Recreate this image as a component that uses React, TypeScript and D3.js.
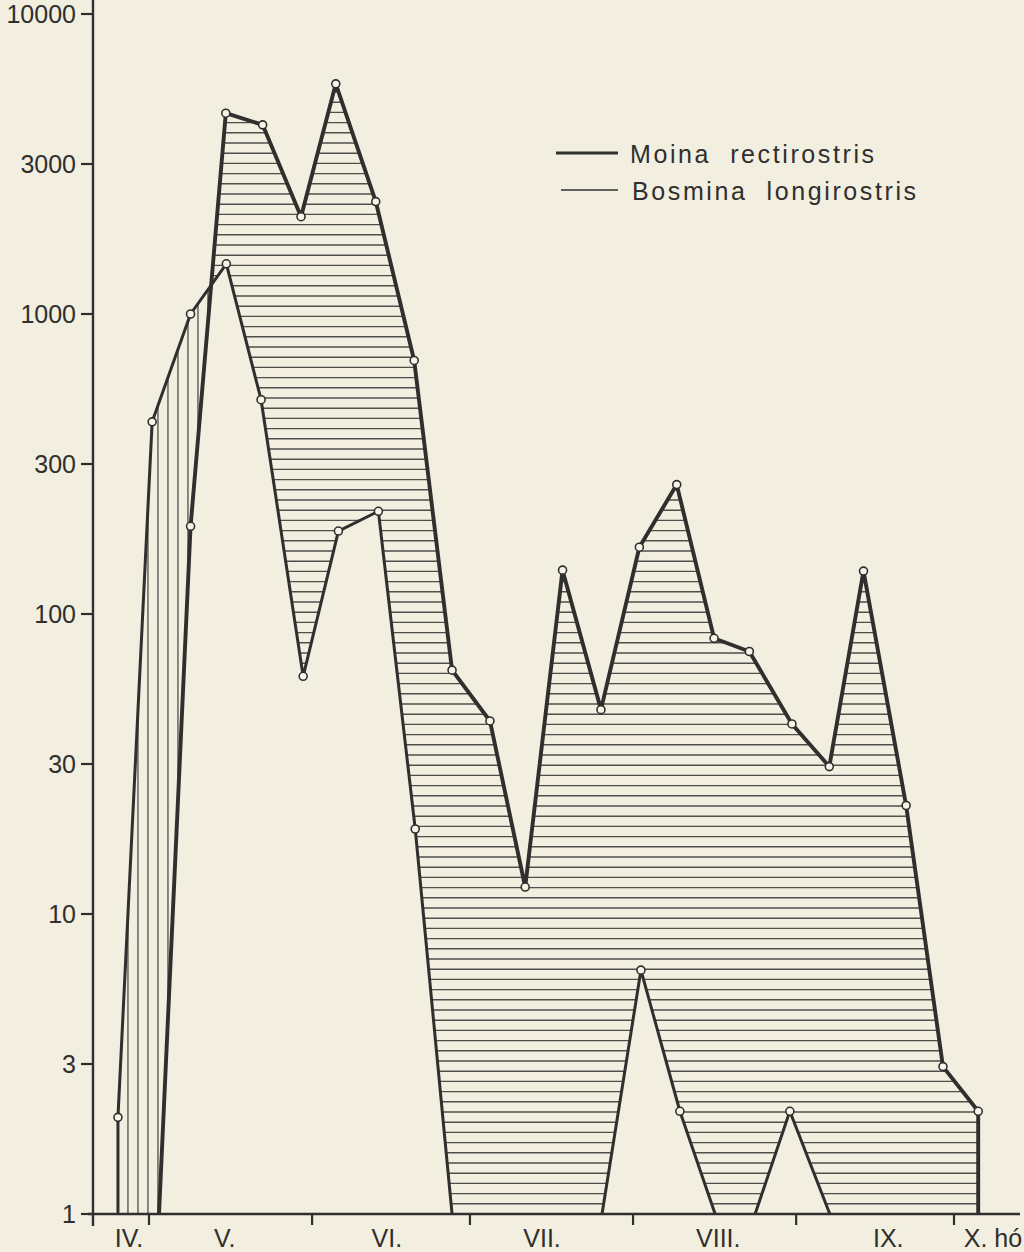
import * as d3 from 'd3'

// sampling days, counted from 1 April
const moinaDays = [31.9, 37.9, 44.6, 51.6, 58.9, 65.5, 73.1, 80.4, 87.6, 94.8, 101.5, 108.6, 115.9, 123.2, 130.3, 137.4, 144.1, 152.2, 159.3, 165.8, 173.9, 180.9, 187.6]
const moinaValues = [0, 196, 4670, 4270, 2110, 5850, 2370, 700, 65, 44, 12.3, 140, 48, 167, 270, 83, 75, 43, 31, 139, 23, 3.1, 2.2]

const bosminaDays = [24.1, 30.6, 37.9, 44.7, 51.3, 59.3, 66.0, 73.6, 80.6, 87.6, 94.8, 101.5, 108.7, 116.1, 123.5, 130.9, 137.6, 145.2, 151.8, 159.4, 165.9, 173.7, 180.9, 187.6]
const bosminaValues = [2.1, 437, 1000, 1470, 518, 62, 189, 220, 19.2, 0, 0, 0, 0, 0, 6.5, 2.2, 0, 0, 2.2, 0, 0, 0, 0, 0]

// y ticks sit on half-decades, labelled with rounded numbers
const yTickValues = [1, Math.sqrt(10), 10, Math.sqrt(1000), 100, Math.sqrt(100000), 1000, Math.sqrt(10000000), 10000]
const yTickLabels = ['1', '3', '10', '30', '100', '300', '1000', '3000', '10000']

const monthStartDays = [30, 61, 91, 122, 153, 183]
const monthLabels = ['IV.', 'V.', 'VI.', 'VII.', 'VIII.', 'IX.', 'X. hó']
const monthLabelDays = [26.2, 44.4, 75.2, 104.7, 138.2, 170.5, 190.4]

const seriesNames = ['Moina  rectirostris', 'Bosmina  longirostris']

type Pt = { d: number; v: number }

const W = 1024
const H = 1252
const PAPER = '#f2eee0'
const INK = '#2f2f2d'
const HATCH = '#4e4e4b'
const FONT = '"Liberation Sans", Arial, sans-serif'

export default function App() {
  const x = d3.scaleLinear().domain([30, 183]).range([149, 954])
  const y = d3.scaleLog().domain([1, 10000]).range([1214, 14])
  const base = y(1)
  const axisX = 93
  const yv = (v: number) => (v > 0 ? y(v) : base)

  const moina: Pt[] = moinaDays.map((d, i) => ({ d, v: moinaValues[i] }))
  const bosmina: Pt[] = bosminaDays.map((d, i) => ({ d, v: bosminaValues[i] }))

  // curves start / end on the axis
  const moinaLine: Pt[] = [...moina, { d: moina[moina.length - 1].d, v: 0 }]
  const bosminaLine: Pt[] = [{ d: bosmina[0].d, v: 0 }, ...bosmina]

  const areaBelow = d3.area<Pt>().x((p) => x(p.d)).y0(base).y1((p) => yv(p.v))
  const areaAbove = d3.area<Pt>().x((p) => x(p.d)).y0(0).y1((p) => yv(p.v))

  // draw segments, skipping those lying on the axis
  const segments = (pts: Pt[]) =>
    pts.slice(1)
      .map((p, i) => [pts[i], p])
      .filter(([a, b]) => a.v > 0 || b.v > 0)
      .map(([a, b]) => `M${x(a.d)},${yv(a.v)}L${x(b.d)},${yv(b.v)}`)
      .join('')

  const hLines = d3.range(base, 0, -10.2)
  const vLines = d3.range(x(bosmina[0].d), 260, 10)

  return (
    <svg width={W} height={H} style={{ position: 'absolute', left: 0, top: 0, display: 'block', background: PAPER }}>
      <defs>
        <clipPath id="underMoina"><path d={areaBelow(moina) || ''} /></clipPath>
        <clipPath id="aboveBosmina"><path d={areaAbove(bosmina) || ''} /></clipPath>
        <clipPath id="underBosmina"><path d={areaBelow(bosmina) || ''} /></clipPath>
        <clipPath id="aboveMoina">
          <path d={areaAbove(moina) || ''} />
          <rect x={0} y={0} width={x(moina[0].d)} height={base} />
        </clipPath>
      </defs>
      <rect width={W} height={H} fill={PAPER} />

      {/* horizontal hatching: Moina above Bosmina */}
      <g clipPath="url(#underMoina)">
        <g clipPath="url(#aboveBosmina)">
          {hLines.map((yy) => (
            <line key={yy} x1={axisX} x2={1010} y1={yy} y2={yy} stroke={HATCH} strokeWidth={1.4} />
          ))}
        </g>
      </g>
      {/* vertical hatching: Bosmina above Moina */}
      <g clipPath="url(#underBosmina)">
        <g clipPath="url(#aboveMoina)">
          {vLines.map((xx) => (
            <line key={xx} x1={xx} x2={xx} y1={0} y2={base} stroke={HATCH} strokeWidth={1.3} />
          ))}
        </g>
      </g>

      {/* axes */}
      <line x1={axisX} x2={axisX} y1={0} y2={base + 12} stroke={INK} strokeWidth={2.4} />
      <line x1={axisX - 5} x2={1020} y1={base} y2={base} stroke={INK} strokeWidth={2.4} />
      {yTickValues.map((v, i) => (
        <g key={i}>
          <line x1={axisX - 12} x2={axisX} y1={y(v)} y2={y(v)} stroke={INK} strokeWidth={2.2} />
          <text x={axisX - 17} y={y(v) + 9} textAnchor="end" fontFamily={FONT} fontSize={25} fill={INK}>
            {yTickLabels[i]}
          </text>
        </g>
      ))}
      {monthStartDays.map((d) => (
        <line key={d} x1={x(d)} x2={x(d)} y1={base} y2={base + 11} stroke={INK} strokeWidth={2.2} />
      ))}
      {monthLabels.map((m, i) => (
        <text key={m} x={x(monthLabelDays[i])} y={1247} textAnchor="middle" fontFamily={FONT} fontSize={25} fill={INK}>
          {m}
        </text>
      ))}

      {/* series outlines */}
      <path d={segments(bosminaLine)} fill="none" stroke={INK} strokeWidth={3} strokeLinejoin="round" />
      <path d={segments(moinaLine)} fill="none" stroke={INK} strokeWidth={3.9} strokeLinejoin="round" />

      {[...moina, ...bosmina].filter((p) => p.v > 0).map((p, i) => (
        <circle key={i} cx={x(p.d)} cy={y(p.v)} r={4} fill="#f7f4ea" stroke={INK} strokeWidth={1.6} />
      ))}

      {/* legend */}
      <line x1={556} x2={618} y1={153} y2={153} stroke={INK} strokeWidth={3.2} />
      <text x={630} y={163} fontFamily={FONT} fontSize={25} letterSpacing={2.6} fill={INK} style={{ whiteSpace: 'pre' }}>
        {seriesNames[0]}
      </text>
      <line x1={561} x2={618} y1={190} y2={190} stroke={INK} strokeWidth={1.6} />
      <text x={632} y={200} fontFamily={FONT} fontSize={25} letterSpacing={2.6} fill={INK} style={{ whiteSpace: 'pre' }}>
        {seriesNames[1]}
      </text>
    </svg>
  )
}
